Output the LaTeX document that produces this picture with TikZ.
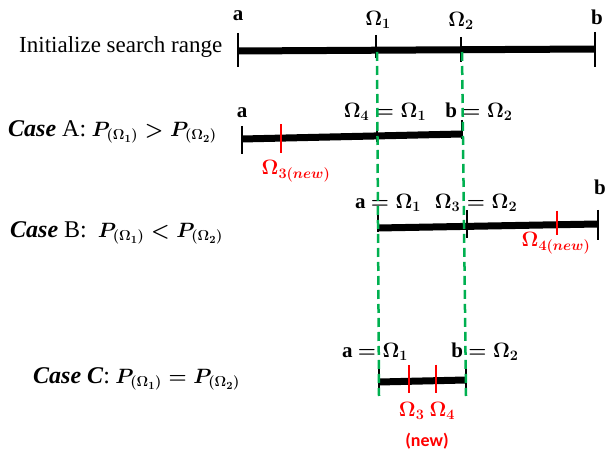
\documentclass[tikz,border=0pt]{standalone}
\usepackage{amsmath,amssymb}
\usepackage[no-math]{fontspec}
\setmainfont{Liberation Serif}
\newfontfamily\newlblfont{Carlito}
\usepackage{xcolor}
\usepackage{tikz}
\usetikzlibrary{positioning,calc}
\definecolor{guidegreen}{RGB}{0,176,80}
\newcommand{\caseword}[1]{{\fontsize{24}{28}\selectfont #1}}
\tikzset{
  seg/.style={line width=7pt},
  tic/.style={line width=2.5pt},
  newtic/.style={tic, draw=red},
  guide/.style={draw=guidegreen, line width=2.5pt, dash pattern=on 9pt off 5pt},
  lbl/.style={font=\fontsize{21}{25}\selectfont\bfseries\boldmath, inner sep=0pt},
  newlbl/.style={lbl, text=red},
  case/.style={font=\fontsize{22}{26}\selectfont\boldmath, anchor=west, inner sep=0pt},
}

\begin{document}
\begin{tikzpicture}[x=1pt, y=-1pt]
  \useasboundingbox (0,0) rectangle (605,454);

  % initial search range
  \node[font=\rmfamily\fontsize{23}{27}\selectfont, anchor=west, inner sep=0pt] (init) at (19,47) {Initialize search range};
  \coordinate (a0) at (238,51);
  \coordinate (o1) at (376,50);
  \coordinate (o2) at (461,49);
  \coordinate (b0) at (595,49);
  \draw[seg] (a0) -- (b0);
  \draw[tic] ($(a0)+(0,-18)$) -- ($(a0)+(0,16)$);
  \draw[tic] ($(o1)+(0,-15)$) -- ($(o1)+(0,8)$);
  \draw[tic] ($(o2)+(0,-12)$) -- ($(o2)+(0,13)$);
  \draw[tic] ($(b0)+(0,-17)$) -- ($(b0)+(0,18)$);
  \node[lbl] (la0) at (238,16) {a};
  \node[lbl] (lo1) at (378,20) {$\Omega_1$};
  \node[lbl] (lo2) at (461,21) {$\Omega_2$};
  \node[lbl] (lb0) at (597,17) {b};

  % case A
  \node[case] (caseA) at (8,132) {\caseword{\textbf{\textit{Case}} A:} $P_{(\Omega_1)} > P_{(\Omega_2)}$};
  \coordinate (aA) at (242,139);
  \coordinate (bA) at (462,134);
  \coordinate (o3A) at ($(aA)!0.177!(bA)$);
  \coordinate (o4A) at ($(aA)!0.614!(bA)$);
  \draw[seg] (aA) -- (bA);
  \draw[tic] ($(aA)+(0,-13)$) -- ($(aA)+(0,15)$);
  \draw[tic] ($(o4A)+(0,-14)$) -- ($(o4A)+(0,6)$);
  \draw[tic] ($(bA)+(0,-14)$) -- ($(bA)+(0,5)$);
  \draw[newtic] ($(o3A)+(0,-14)$) -- ($(o3A)+(0,15)$);
  \node[lbl] (laA) at (242,113) {a};
  \node[lbl] (lo4A) at (385,112) {$\Omega_4 = \Omega_1$};
  \node[lbl] (lbA) at (479,112) {b $= \Omega_2$};
  \node[newlbl] (lo3A) at (296,171) {$\Omega_{3(new)}$};

  % case B
  \node[case] (caseB) at (10,233) {\caseword{\textbf{\textit{Case}} B:}\ \ $P_{(\Omega_1)} < P_{(\Omega_2)}$};
  \coordinate (aB) at (378,228);
  \coordinate (bB) at (598,224);
  \coordinate (o3B) at ($(aB)!0.405!(bB)$);
  \coordinate (o4B) at ($(aB)!0.814!(bB)$);
  \draw[seg] (aB) -- (bB);
  \draw[tic] ($(aB)+(0,-13)$) -- ($(aB)+(0,4)$);
  \draw[tic] ($(o3B)+(0,-16)$) -- ($(o3B)+(0,12)$);
  \draw[tic] ($(bB)+(0,-14)$) -- ($(bB)+(0,16)$);
  \draw[newtic] ($(o4B)+(0,-14)$) -- ($(o4B)+(0,10)$);
  \node[lbl] (lbB) at (600,187) {b};
  \node[lbl] (laB) at (388,203) {a $= \Omega_1$};
  \node[lbl] (lo3B) at (476,203) {$\Omega_3 = \Omega_2$};
  \node[newlbl] (lo4B) at (556,243) {$\Omega_{4(new)}$};

  % case C
  \node[case, font=\fontsize{21}{25}\selectfont\boldmath] (caseC) at (33,379) {\caseword{\textbf{\textit{Case C}}:} $P_{(\Omega_1)} = P_{(\Omega_2)}$};
  \coordinate (aC) at (379,382);
  \coordinate (bC) at (466,380);
  \coordinate (o3C) at ($(aC)!0.345!(bC)$);
  \coordinate (o4C) at ($(aC)!0.655!(bC)$);
  \draw[seg] (aC) -- (bC);
  \draw[tic] ($(aC)+(0,-14)$) -- ($(aC)+(0,14)$);
  \draw[tic] ($(bC)+(0,-15)$) -- ($(bC)+(0,13)$);
  \draw[newtic] ($(o3C)+(0,-16)$) -- ($(o3C)+(0,12)$);
  \draw[newtic] ($(o4C)+(0,-16)$) -- ($(o4C)+(0,12)$);
  \node[lbl] (laC) at (375,352) {a $= \Omega_1$};
  \node[lbl] (lbC) at (485,352) {b $= \Omega_2$};
  \node[newlbl] (lo34C) at (427,411) {$\Omega_3\ \Omega_4$};
  \node[text=red, font=\fontsize{18}{21}\selectfont\newlblfont\bfseries, inner sep=0pt] (lnewC) at (427,441) {(new)};

  % guides
  \coordinate (g1top) at (377,52);
  \coordinate (g1bot) at (379,396);
  \coordinate (g2top) at (462,52);
  \coordinate (g2bot) at (466,396);
  \draw[guide] (g1top) -- (g1bot);
  \draw[guide] (g2top) -- (g2bot);
\end{tikzpicture}
\end{document}
